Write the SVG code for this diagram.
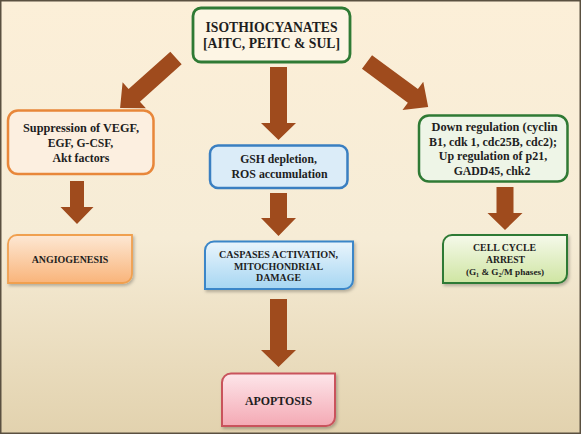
<svg xmlns="http://www.w3.org/2000/svg" width="581" height="434" viewBox="0 0 581 434">
<defs>
<linearGradient id="bg" x1="0" y1="0" x2="0" y2="1">
<stop offset="0" stop-color="#fcefd8"/>
<stop offset="0.55" stop-color="#f6ecd6"/>
<stop offset="1" stop-color="#e2d2ae"/>
</linearGradient>
<linearGradient id="gOrange" x1="0" y1="0" x2="0" y2="1">
<stop offset="0" stop-color="#fde8d4"/>
<stop offset="1" stop-color="#f9b47a"/>
</linearGradient>
<linearGradient id="gBlue" x1="0" y1="0" x2="0" y2="1">
<stop offset="0" stop-color="#eaf5fc"/>
<stop offset="1" stop-color="#a6d6f2"/>
</linearGradient>
<linearGradient id="gGreen" x1="0" y1="0" x2="0" y2="1">
<stop offset="0" stop-color="#f5f9ea"/>
<stop offset="1" stop-color="#cfe5a2"/>
</linearGradient>
<linearGradient id="gPink" x1="0" y1="0" x2="0" y2="1">
<stop offset="0" stop-color="#fde6ea"/>
<stop offset="1" stop-color="#f4a9b4"/>
</linearGradient>
<filter id="sh" x="-10%" y="-10%" width="125%" height="130%">
<feDropShadow dx="1.5" dy="2" stdDeviation="1.5" flood-color="#000" flood-opacity="0.25"/>
</filter>
</defs>
<style>
text{font-family:"Liberation Serif","Times New Roman",serif;font-weight:bold;fill:#1e1e1e;text-anchor:middle}
.arrow{fill:#9f4b1d}
.t14{font-size:14.5px}
.t12{font-size:12.5px}
.t11{font-size:10.5px}
.t10{font-size:9.8px}
.t9{font-size:9.2px}
</style>
<rect x="0" y="0" width="581" height="434" fill="url(#bg)"/>
<rect x="0.75" y="0.75" width="579.5" height="432.5" fill="none" stroke="#5a5040" stroke-width="1.5"/>

<g id="connectors">
<polygon class="arrow" transform="translate(176,58) rotate(48.2)" points="-8.5,0 8.5,0 8.5,56 17.5,56 0,75 -17.5,56 -8.5,56"/>
<polygon class="arrow" transform="translate(367,62) rotate(-53.6)" points="-8.5,0 8.5,0 8.5,57 17.5,57 0,76 -17.5,57 -8.5,57"/>
<polygon class="arrow" points="270,67 287,67 287,123 296,123 278.5,140 261,123 270,123"/>
<polygon class="arrow" points="270,193 287,193 287,218 296,218 278.5,236 261,218 270,218"/>
<polygon class="arrow" points="270,299 287,299 287,350 296,350 278.5,367 261,350 270,350"/>
<polygon class="arrow" points="70,181 84,181 84,207 93.5,207 77,224 60.5,207 70,207"/>
<polygon class="arrow" points="496.5,187 513.5,187 513.5,213 522.5,213 505,230 487.5,213 496.5,213"/>
</g>

<g id="isothiocyanates">
<rect x="193" y="8" width="157" height="54" rx="8" fill="#fdf5e4" stroke="#2f7a34" stroke-width="2.8"/>
<text class="t14" x="271.5" y="32" textLength="132" lengthAdjust="spacingAndGlyphs">ISOTHIOCYANATES</text>
<text class="t14" x="271.5" y="48" textLength="137" lengthAdjust="spacingAndGlyphs">[AITC, PEITC &amp; SUL]</text>
</g>

<g id="suppression">
<rect x="8" y="110.5" width="145.5" height="63.5" rx="10" fill="#fcefe0" stroke="#e8873a" stroke-width="2.5"/>
<text class="t12" x="81" y="132" textLength="116" lengthAdjust="spacingAndGlyphs">Suppression of  VEGF,</text>
<text class="t12" x="80.5" y="147" textLength="65.6" lengthAdjust="spacingAndGlyphs">EGF, G-CSF,</text>
<text class="t12" x="81" y="161.5" textLength="57" lengthAdjust="spacingAndGlyphs">Akt factors</text>
</g>

<g id="gsh">
<rect x="210" y="145.5" width="137.5" height="42.5" rx="8" fill="#dbecf8" stroke="#3a7fc1" stroke-width="2.5"/>
<text class="t12" x="278.5" y="163" textLength="76.7" lengthAdjust="spacingAndGlyphs">GSH depletion,</text>
<text class="t12" x="279.5" y="177.5" textLength="96" lengthAdjust="spacingAndGlyphs">ROS accumulation</text>
</g>

<g id="downregulation">
<rect x="419" y="115.5" width="148.5" height="66" rx="10" fill="#eef5e7" stroke="#2f7a34" stroke-width="2.5"/>
<text class="t12" x="494.5" y="131" textLength="126" lengthAdjust="spacingAndGlyphs">Down regulation (cyclin</text>
<text class="t12" x="493" y="146" textLength="128" lengthAdjust="spacingAndGlyphs">B1, cdk 1, cdc25B, cdc2);</text>
<text class="t12" x="493" y="160" textLength="108.5" lengthAdjust="spacingAndGlyphs">Up regulation of p21,</text>
<text class="t12" x="492" y="174.5" textLength="76.7" lengthAdjust="spacingAndGlyphs">GADD45, chk2</text>
</g>

<g id="angiogenesis">
<path d="M17,235 H132 V274 A9,9 0 0 1 123,283 H8 V244 A9,9 0 0 1 17,235 Z" fill="url(#gOrange)" stroke="#f0a050" stroke-width="1.8" filter="url(#sh)"/>
<text class="t11" x="70" y="262.5" textLength="76.7" lengthAdjust="spacingAndGlyphs">ANGIOGENESIS</text>
</g>

<g id="caspases">
<path d="M214,241.5 H353 V280 A9,9 0 0 1 344,289 H205 V250.5 A9,9 0 0 1 214,241.5 Z" fill="url(#gBlue)" stroke="#3a86c8" stroke-width="2" filter="url(#sh)"/>
<text class="t10" x="278.5" y="257.5" textLength="119" lengthAdjust="spacingAndGlyphs">CASPASES ACTIVATION,</text>
<text class="t10" x="278.5" y="269.5" textLength="89" lengthAdjust="spacingAndGlyphs">MITOCHONDRIAL</text>
<text class="t10" x="278.5" y="281" textLength="45" lengthAdjust="spacingAndGlyphs">DAMAGE</text>
</g>

<g id="cellcycle">
<path d="M452,235 H567 V274 A9,9 0 0 1 558,283 H443 V244 A9,9 0 0 1 452,235 Z" fill="url(#gGreen)" stroke="#2f7a34" stroke-width="2" filter="url(#sh)"/>
<text class="t10" x="504.5" y="250.5" textLength="63" lengthAdjust="spacingAndGlyphs">CELL CYCLE</text>
<text class="t10" x="505.5" y="262.5" textLength="39" lengthAdjust="spacingAndGlyphs">ARREST</text>
<text class="t9" x="505" y="275">(G<tspan font-size="6" dy="2">1</tspan><tspan dy="-2"> &amp; G</tspan><tspan font-size="6" dy="2">2</tspan><tspan dy="-2">/M phases)</tspan></text>
</g>

<g id="apoptosis">
<path d="M231,373.5 H335 V417 A9,9 0 0 1 326,426 H222 V382.5 A9,9 0 0 1 231,373.5 Z" fill="url(#gPink)" stroke="#c9535c" stroke-width="2" filter="url(#sh)"/>
<text class="t12" x="278.5" y="404.5" textLength="67" lengthAdjust="spacingAndGlyphs">APOPTOSIS</text>
</g>
</svg>
